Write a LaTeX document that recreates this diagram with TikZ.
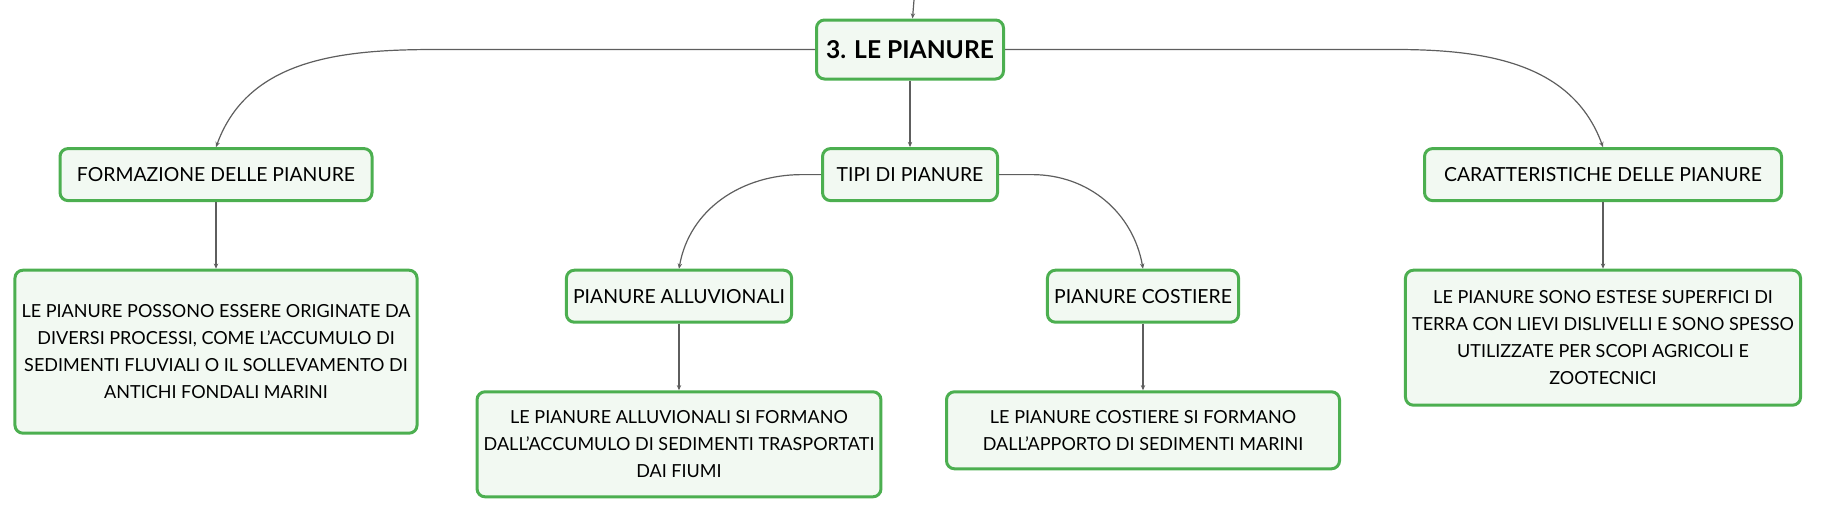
\documentclass[tikz,border=0pt]{standalone}
\usepackage{fontspec}
\setmainfont{Lato}
\usetikzlibrary{arrows.meta,positioning}
\definecolor{verde}{HTML}{4CAF50}
\definecolor{sfondo}{HTML}{F2F9F2}
\definecolor{linea}{HTML}{5E5E5E}
\tikzset{
    %Define standard arrow tip
    >={Stealth[length=2.6pt,width=2.2pt]},
    %Define style for boxes
    voce/.style={
           rectangle,
           rounded corners=4pt,
           draw=verde, line width=1.5pt,
           fill=sfondo,
           text=black,
           font=\fontsize{9.7}{13.5}\selectfont,
           minimum height=26pt,
           text centered},
    testo/.style={
           voce,
           font=\fontsize{9}{13.5}\selectfont,
           align=center,
           minimum width=196.5pt},
    % Define arrow style
    pil/.style={
           ->,
           draw=linea,
           line width=0.6pt}
}
\begin{document}
\begin{tikzpicture}[x=0.5pt,y=-0.5pt,node distance=33.3pt]
    \useasboundingbox (0,0) rectangle (1821,520);
    \node (pianure) [voce, minimum width=93.5pt, minimum height=29.5pt,
          font=\fontsize{12.3}{15}\selectfont\bfseries] at (910,49.5)
          {3. LE PIANURE};
    \coordinate (sopra) at (914,0);
    \node (tipi) [voce, minimum width=87.5pt] [below=of pianure]
          {TIPI DI PIANURE};
    \node (formazione) [voce, minimum width=156pt] [below=of pianure, xshift=-347pt]
          {FORMAZIONE DELLE PIANURE};
    \node (caratteristiche) [voce, minimum width=178.5pt] [below=of pianure, xshift=346.5pt]
          {CARATTERISTICHE DELLE PIANURE};
    \node (alluvionali) [voce, minimum width=110pt] [below=of tipi, xshift=-115.5pt]
          {PIANURE ALLUVIONALI};
    \node (costiere) [voce, minimum width=95pt] [below=of tipi, xshift=116.5pt]
          {PIANURE COSTIERE};
    \node (formtesto) [testo, minimum height=81.5pt] [below=of formazione]
          {LE PIANURE POSSONO ESSERE ORIGINATE DA\\DIVERSI PROCESSI, COME L’ACCUMULO DI\\SEDIMENTI FLUVIALI O IL SOLLEVAMENTO DI\\ANTICHI FONDALI MARINI};
    \node (caratesto) [testo, minimum height=67.5pt] [below=of caratteristiche]
          {LE PIANURE SONO ESTESE SUPERFICI DI\\TERRA CON LIEVI DISLIVELLI E SONO SPESSO\\UTILIZZATE PER SCOPI AGRICOLI E\\ZOOTECNICI};
    \node (alltesto) [testo, minimum height=52.5pt] [below=of alluvionali]
          {LE PIANURE ALLUVIONALI SI FORMANO\\DALL’ACCUMULO DI SEDIMENTI TRASPORTATI\\DAI FIUMI};
    \node (costesto) [testo, minimum height=38.5pt] [below=of costiere]
          {LE PIANURE COSTIERE SI FORMANO\\DALL’APPORTO DI SEDIMENTI MARINI};
    % connectors
    \draw [pil] (sopra) -- (pianure);
    \draw [pil] (pianure) -- (tipi);
    \draw [pil] (pianure.west) -- ++(-379,0) to[out=180,in=70] (formazione.north);
    \draw [pil] (pianure.east) -- ++(390,0) to[out=0,in=110] (caratteristiche.north);
    \draw [pil] (tipi.west) -- ++(-19,0) to[out=180,in=80] (alluvionali.north);
    \draw [pil] (tipi.east) -- ++(33,0) to[out=0,in=100] (costiere.north);
    \draw [pil] (formazione) -- (formtesto);
    \draw [pil] (caratteristiche) -- (caratesto);
    \draw [pil] (alluvionali) -- (alltesto);
    \draw [pil] (costiere) -- (costesto);
\end{tikzpicture}
\end{document}
